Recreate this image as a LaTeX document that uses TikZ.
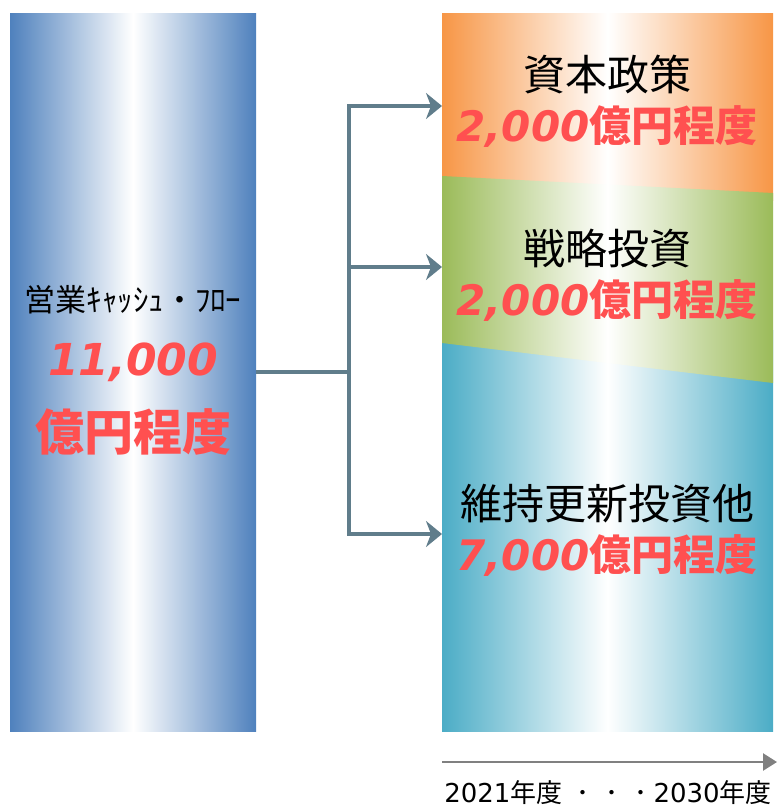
\documentclass[tikz,border=0pt]{standalone}
\usepackage{fontspec}
\newfontfamily\jp{Noto Sans CJK JP}
\newfontfamily\vd{DejaVu Sans}
\usetikzlibrary{positioning,arrows.meta}

\definecolor{cfblue}{RGB}{79,129,189}
\definecolor{caporange}{RGB}{247,150,70}
\definecolor{invgreen}{RGB}{155,187,89}
\definecolor{mntteal}{RGB}{75,172,198}
\definecolor{amtred}{RGB}{255,80,80}
\definecolor{flowgray}{RGB}{96,125,139}
\definecolor{timegray}{RGB}{128,128,128}

\newcommand{\oku}[1]{{\vd\bfseries\itshape #1}{\jp\bfseries 億円程度}}

\begin{document}
\begin{tikzpicture}[x=1pt,y=-1pt,inner sep=0pt,outer sep=0pt,node distance=52pt,on grid]
        \tikzstyle{bar}=[rectangle,left color=#1,right color=#1,middle color=white]
        \tikzstyle{title}=[font=\jp\fontsize{42}{48}\selectfont,text=black]
        \tikzstyle{amount}=[font=\fontsize{42}{48}\selectfont,text=amtred]
        \tikzstyle{flow}=[draw=flowgray,line width=4pt,-{Stealth[length=16pt,width=26pt,inset=5pt]}]
        \useasboundingbox (0,0) rectangle (783,809);
        % bars
        \node[bar=cfblue,minimum width=246pt,minimum height=718pt] (cf) at (133,372) {};
        \node[bar=caporange,minimum width=331pt,minimum height=187pt] (cap) at (607.5,106.5) {};
        \node[bar=mntteal,minimum width=331pt,minimum height=401pt] (mnt) at (607.5,530.5) {};
        \shade[bar=invgreen] (442,176) -- (773,193) -- (773,383) -- (442,343) -- cycle;
        % texts
        \node[font=\jp\fontsize{31}{36}\selectfont] (cft) at (133,300) {営業ｷｬｯｼｭ・ﾌﾛｰ};
        \node[text=amtred,font=\vd\bfseries\itshape\fontsize{44}{48}\selectfont,below=62pt of cft] (cfn) {11,000};
        \node[text=amtred,font=\jp\bfseries\fontsize{49}{54}\selectfont,below=70pt of cfn] (cfu) {億円程度};
        \node[title] (capt) at (607,75) {資本政策};
        \node[amount,below=of capt] (capa) {\oku{2,000}};
        \node[title] (invt) at (607,249) {戦略投資};
        \node[amount,below=of invt] (inva) {\oku{2,000}};
        \node[title] (mntt) at (607,504) {維持更新投資他};
        \node[amount,below=of mntt] (mnta) {\oku{7,000}};
        % connectors
        \coordinate (fork) at (349,372);
        \coordinate (a1) at (442,106);
        \coordinate (a2) at (442,267);
        \coordinate (a3) at (442,534);
        \draw[draw=flowgray,line width=4pt] (cf.east |- fork) -- (fork);
        \draw[flow] (fork) |- (a1);
        \draw[flow] (fork) |- (a2);
        \draw[flow] (fork) |- (a3);
        % time axis
        \coordinate (ts) at (442,762);
        \coordinate (te) at (777,762);
        \draw[timegray,line width=2.5pt,-{Triangle[length=14pt,width=17pt]}] (ts) -- (te);
        \node[font=\jp\fontsize{26}{30}\selectfont,anchor=base] (yrs) at (608,802)
          {{\vd 2021}年度\hspace{14pt}･\hspace{16pt}･\hspace{16pt}･\hspace{6pt}{\vd 2030}年度};
    \end{tikzpicture}
\end{document}
